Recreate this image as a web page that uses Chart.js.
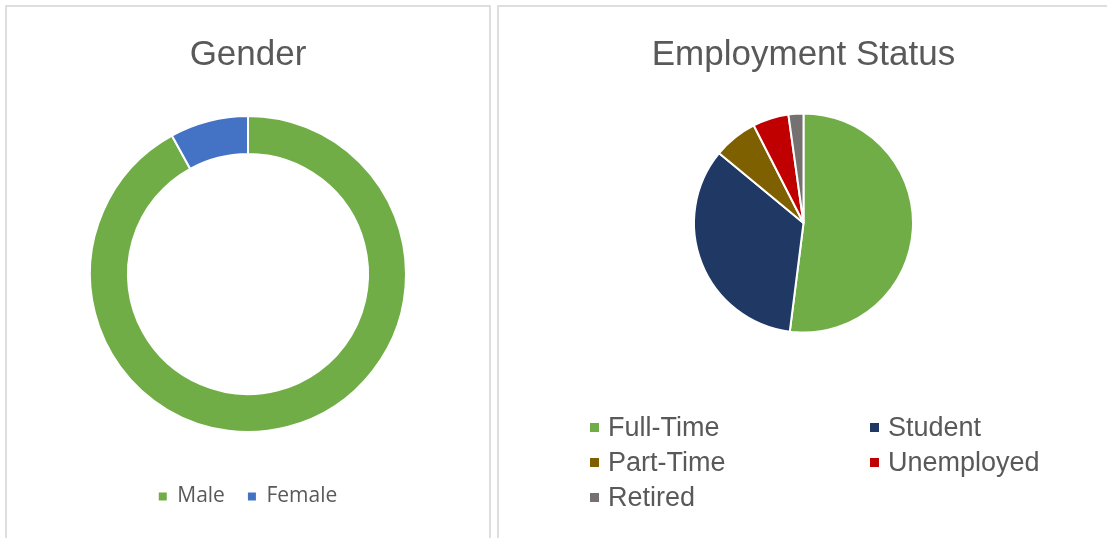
<!DOCTYPE html>
<html>
<head>
<meta charset="utf-8">
<script src="https://cdn.jsdelivr.net/npm/chart.js@4/dist/chart.umd.min.js"></script>
<style>
  body { margin: 0; background: #fff; width: 1107px; height: 538px; overflow: hidden; position: relative; }
  .panel { position: absolute; border: 2px solid #dedede; top: 5px; height: 580px; }
  #leftPanel { left: 5px; width: 482px; }
  #rightPanel { left: 497px; width: 640px; }
  canvas { position: absolute; }
  #genderChart { left: 8px; top: 8px; }
  #statusChart { left: 500px; top: 8px; }
  #statusLegend { position: absolute; left: 590px; top: 410px; display: grid; grid-template-columns: 280px 280px; }
  #statusLegend div { display: flex; align-items: center; height: 35px; font: 27px "Liberation Sans", Arial, sans-serif; color: #595959; white-space: nowrap; }
  #statusLegend span.box { width: 9px; height: 9px; margin-right: 9px; display: inline-block; }
</style>
</head>
<body>
<div class="panel" id="leftPanel"></div>
<div class="panel" id="rightPanel"></div>
<canvas id="genderChart" width="480" height="530"></canvas>
<canvas id="statusChart" width="607" height="530"></canvas>
<div id="statusLegend"></div>
<script>
const genderLabels = ['Male', 'Female'];
const genderValues = [92, 8];
const genderColors = ['#70AD47', '#4472C4'];

const statusLabels = ['Full-Time', 'Student', 'Part-Time', 'Unemployed', 'Retired'];
const statusValues = [52, 34, 6.5, 5.3, 2.2];
const statusColors = ['#70AD47', '#1F3864', '#7F6000', '#C00000', '#767171'];

const textColor = '#595959';
const titleFont = { family: '"Liberation Sans", Arial, sans-serif', size: 35, weight: 'normal', lineHeight: 1 };

const baseLabels = Chart.overrides.doughnut.plugins.legend.labels.generateLabels;

const genderChart = new Chart(document.getElementById('genderChart'), {
  type: 'doughnut',
  data: {
    labels: genderLabels,
    datasets: [{
      data: genderValues,
      backgroundColor: genderColors,
      borderColor: '#fff',
      borderWidth: 2
    }]
  },
  options: {
    responsive: false,
    animation: false,
    cutout: '76%',
    layout: { padding: { left: 81, right: 81, top: 0, bottom: 21 } },
    plugins: {
      title: {
        display: true,
        text: 'Gender',
        color: textColor,
        font: titleFont,
        padding: { top: 29.5, bottom: 12.5 }
      },
      legend: {
        position: 'bottom',
        labels: {
          color: textColor,
          font: { family: '"Open Sans", sans-serif', size: 21 },
          boxWidth: 8,
          boxHeight: 8,
          padding: 23,
          generateLabels: function(chart) {
            return baseLabels(chart).map(function(item) { item.lineWidth = 0; return item; });
          }
        }
      },
      tooltip: { enabled: false }
    }
  }
});

const statusChart = new Chart(document.getElementById('statusChart'), {
  type: 'pie',
  data: {
    labels: statusLabels,
    datasets: [{
      data: statusValues,
      backgroundColor: statusColors,
      borderColor: '#fff',
      borderWidth: 2
    }]
  },
  options: {
    responsive: false,
    animation: false,
    layout: { padding: { left: 0, right: 0, top: 0, bottom: 204.5 } },
    plugins: {
      title: {
        display: true,
        text: 'Employment Status',
        color: textColor,
        font: titleFont,
        padding: { top: 29.5, bottom: 40 }
      },
      legend: { display: false },
      tooltip: { enabled: false }
    }
  }
});

// legend in two columns, built from the chart's own legend items
const legendBox = document.getElementById('statusLegend');
baseLabels(statusChart).forEach(function(item) {
  const row = document.createElement('div');
  const box = document.createElement('span');
  box.className = 'box';
  box.style.background = item.fillStyle;
  row.appendChild(box);
  row.appendChild(document.createTextNode(item.text));
  legendBox.appendChild(row);
});
</script>
</body>
</html>
